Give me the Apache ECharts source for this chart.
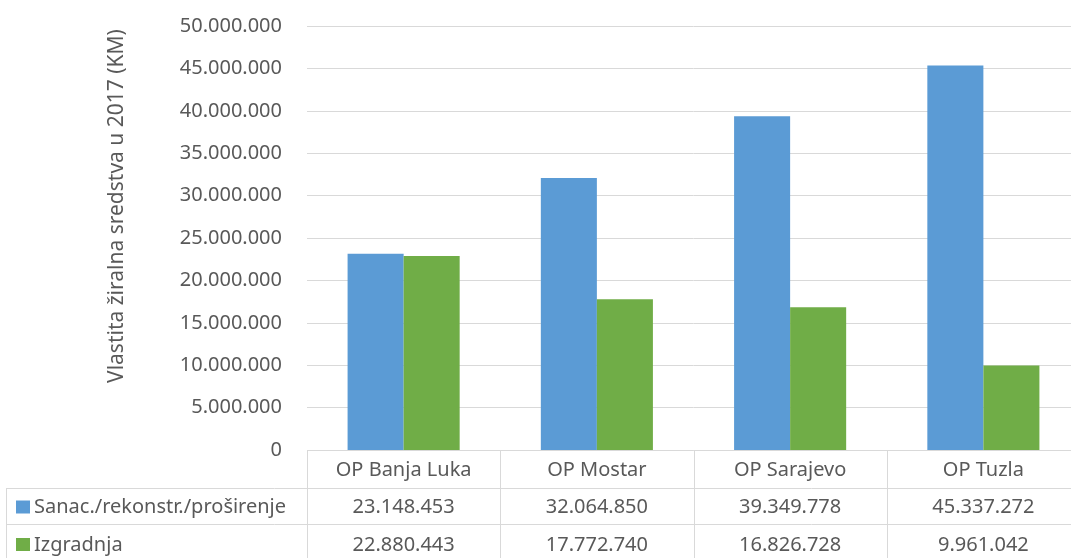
<!DOCTYPE html>
<html><head><meta charset="utf-8">
<script src="https://cdn.jsdelivr.net/npm/echarts@6/dist/echarts.min.js"></script>
<style>html,body{margin:0;padding:0;background:#fff;overflow:hidden;width:1071px;height:558px}#c{width:1090px;height:558px}</style>
</head><body><div id="c"></div>
<script>
const categories = ['OP Banja Luka', 'OP Mostar', 'OP Sarajevo', 'OP Tuzla'];
const seriesNames = ['Sanac./rekonstr./proširenje', 'Izgradnja'];
const sanacija = [23148453, 32064850, 39349778, 45337272];
const izgradnja = [22880443, 17772740, 16826728, 9961042];
const yTitle = 'Vlastita žiralna sredstva u 2017 (KM)';
const colors = ['#5b9bd5', '#70ad47'];
const FONT = 'Noto Sans';
const TXT = '#595959';
const LINE = '#d9d9d9';

function fmt(v) { return String(v).replace(/\B(?=(\d{3})+(?!\d))/g, '.'); }

const chart = echarts.init(document.getElementById('c'));
const W = 1090, H = 558;
const gridL = 307, gridR = 10, gridT = 26, gridB = 108;
chart.setOption({
  animation: false,
  textStyle: { fontFamily: FONT },
  grid: { left: gridL, right: gridR, top: gridT, bottom: gridB, containLabel: false },
  xAxis: {
    type: 'category', data: categories,
    axisLine: { show: false }, axisTick: { show: false }, axisLabel: { show: false }
  },
  yAxis: {
    type: 'value', min: 0, max: 50000000, interval: 5000000,
    axisLine: { show: false }, axisTick: { show: false },
    axisLabel: { color: TXT, fontSize: 20, fontFamily: FONT, margin: 25, formatter: v => fmt(v) },
    splitLine: { lineStyle: { color: LINE, width: 1 } }
  },
  series: [
    { name: seriesNames[0], type: 'bar', data: sanacija, itemStyle: { color: colors[0] }, barGap: '0%', barCategoryGap: '42%' },
    { name: seriesNames[1], type: 'bar', data: izgradnja, itemStyle: { color: colors[1] }, barGap: '0%', barCategoryGap: '42%' }
  ]
});

// Build data table below the plot
const plotRight = W - gridR;
const axisY = H - gridB;
const rowY = [axisY, 488, 524, 562];
const legendLeft = 6;
const bw = (plotRight - gridL) / categories.length;
const g = [];
const ls = { stroke: LINE, lineWidth: 1 };
function hline(x1, x2, y) { g.push({ type: 'line', shape: { x1, y1: y + 0.5, x2, y2: y + 0.5 }, style: ls, silent: true }); }
function vline(x, y1, y2) { g.push({ type: 'line', shape: { x1: x + 0.5, y1, x2: x + 0.5, y2 }, style: ls, silent: true }); }
hline(gridL, plotRight, rowY[0]);
hline(legendLeft, plotRight, rowY[1]);
hline(legendLeft, plotRight, rowY[2]);
vline(legendLeft, rowY[1], H);
for (let i = 0; i <= categories.length; i++) vline(Math.round(gridL + i * bw), rowY[0], H);
function txt(text, x, y, align, size) {
  g.push({ type: 'text', x, y, silent: true, style: { text, fill: TXT, font: (size || 20) + 'px "' + FONT + '"', textAlign: align || 'center', textVerticalAlign: 'middle' } });
}
const rowC = [(rowY[0] + rowY[1]) / 2 + 1, (rowY[1] + rowY[2]) / 2 + 1.5, (rowY[2] + rowY[3]) / 2 + 2];
categories.forEach((c, i) => {
  const cx = chart.convertToPixel({ xAxisIndex: 0 }, c);
  txt(c, cx, rowC[0]);
  txt(fmt(sanacija[i]), cx, rowC[1]);
  txt(fmt(izgradnja[i]), cx, rowC[2]);
});
[[seriesNames[0], rowC[1]], [seriesNames[1], rowC[2]]].forEach((r, k) => {
  g.push({ type: 'rect', shape: { x: 16, y: r[1] - 7, width: 14, height: 13 }, style: { fill: colors[k] }, silent: true });
  txt(r[0], 34, r[1], 'left');
});
g.push({ type: 'text', x: 117, y: 206, rotation: Math.PI / 2, silent: true,
  style: { text: yTitle, fill: TXT, font: '21px "' + FONT + '"', textAlign: 'center', textVerticalAlign: 'middle' } });
chart.setOption({ graphic: g });
</script></body></html>
